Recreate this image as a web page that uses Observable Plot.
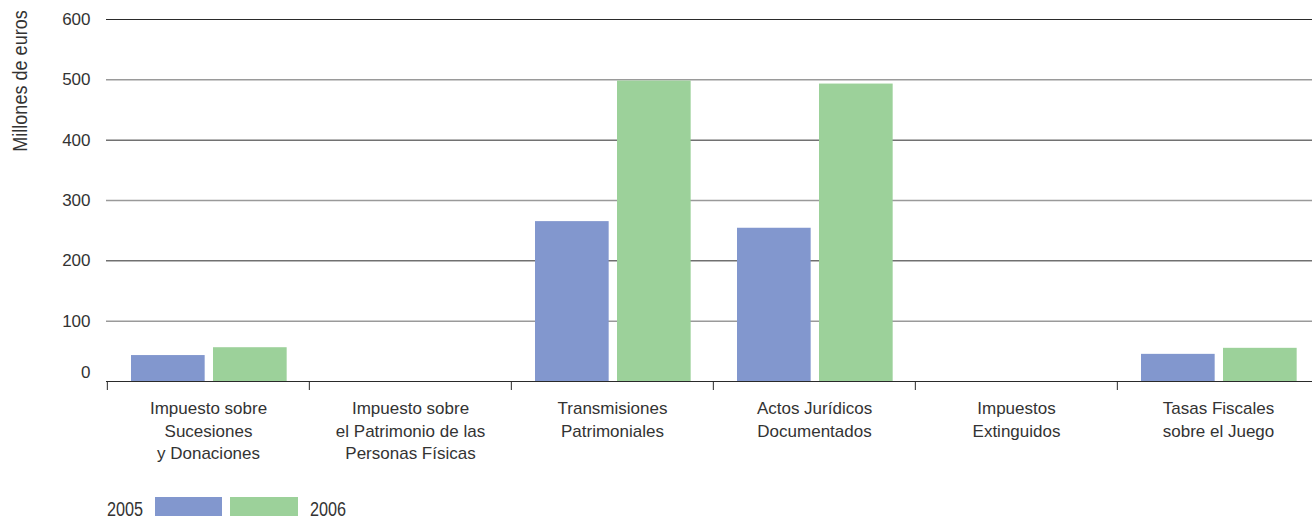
<!DOCTYPE html>
<html><head><meta charset="utf-8">
<script src="https://cdn.jsdelivr.net/npm/d3@7"></script>
<script src="https://cdn.jsdelivr.net/npm/@observablehq/plot@0.6"></script>
<style>
html,body{margin:0;padding:0;background:#fff;overflow:hidden}
#wrap{position:relative;width:1312px;height:520px;font-family:"Liberation Sans",Arial,sans-serif;color:#333}
#ylab{position:absolute;left:-80px;top:70px;width:200px;height:22px;line-height:22px;text-align:center;transform:rotate(-90deg) scaleX(0.86);font-family:"Liberation Sans",Arial,sans-serif;font-size:21px;color:#333;white-space:nowrap}
.lg{position:absolute;top:497px;height:19px}
.lt{position:absolute;top:499px;font-family:"Liberation Sans",Arial,sans-serif;font-size:20px;line-height:20px;color:#333;transform:scaleX(0.81);transform-origin:left center;white-space:nowrap}
</style></head>
<body><div id="wrap"><div id="chart"></div><div id="ylab">Millones de euros</div></div>
<script>
const categories = ["Sucesiones", "Patrimonio", "Transmisiones", "Actos", "Extinguidos", "Tasas"];
const tickLabels = [
  "Impuesto sobre\nSucesiones\ny Donaciones",
  "Impuesto sobre\nel Patrimonio de las\nPersonas Físicas",
  "Transmisiones\nPatrimoniales",
  "Actos Jurídicos\nDocumentados",
  "Impuestos\nExtinguidos",
  "Tasas Fiscales\nsobre el Juego"
];
const values2005 = [43, 0, 265, 254, 0, 45];
const values2006 = [56, 0, 498, 493, 0, 55];
const years = ["2005", "2006"];
const colors = ["#8297CE", "#9CD19A"];
const yTicks = [0, 100, 200, 300, 400, 500, 600];

const rows = categories.map((c, i) => ({cat: c, v2005: values2005[i], v2006: values2006[i]}));
const labelOf = Object.fromEntries(categories.map((c, i) => [c, tickLabels[i]]));

const x0 = 106, x1 = 1320;
const step = (x1 - x0) / categories.length;

const chart = Plot.plot({
  width: 1312,
  height: 470,
  marginLeft: 106,
  marginRight: 0,
  marginTop: 19,
  marginBottom: 89,
  style: {fontFamily: '"Liberation Sans", Arial, sans-serif', color: "#333", background: "#fff", overflow: "visible"},
  x: {type: "band", domain: categories, range: [x0, x1], padding: 0},
  y: {domain: [0, 600], ticks: []},
  marks: [
    Plot.ruleY(yTicks.filter(t => t > 0 && (t / 100) % 2 === 1), {stroke: "#9a9a9a", strokeWidth: 1.5}),
    Plot.ruleY(yTicks.filter(t => t > 0 && (t / 100) % 2 === 0), {stroke: "#2a2a2a", strokeWidth: 1}),
    Plot.barY(rows, {x: "cat", y: "v2005", fill: colors[0], insetLeft: 24, insetRight: step - 24 - 74}),
    Plot.barY(rows, {x: "cat", y: "v2006", fill: colors[1], insetLeft: 24 + 74 + 8, insetRight: step - 24 - 74 - 8 - 74}),
    Plot.ruleY([0], {stroke: "#2a2a2a", strokeWidth: 1.2}),
    Plot.axisX({tickSize: 9, tickFormat: () => "", dx: -step / 2, label: null, stroke: "#2a2a2a"}),
    Plot.axisX({tickSize: 0, tickPadding: 17, tickFormat: d => labelOf[d], fontSize: 17, lineHeight: 1.32, label: null}),
    Plot.axisY({ticks: yTicks.filter(t => t > 0), tickSize: 0, tickPadding: 16, fontSize: 17, label: null}),
    Plot.text([0], {y: d => d, frameAnchor: "left", dx: -16, dy: -9, textAnchor: "end", text: d => String(d), fontSize: 17})
  ]
});
document.getElementById("chart").appendChild(chart);

const wrap = document.getElementById("wrap");
function addEl(cls, left, w, bg, txt) {
  const d = document.createElement("div");
  d.className = cls;
  d.style.left = left + "px";
  if (w) d.style.width = w + "px";
  if (bg) d.style.background = bg;
  if (txt) d.textContent = txt;
  wrap.appendChild(d);
}
addEl("lt", 107, null, null, years[0]);
addEl("lg", 155, 67, colors[0]);
addEl("lg", 230, 68, colors[1]);
addEl("lt", 310, null, null, years[1]);
</script>
</body></html>
